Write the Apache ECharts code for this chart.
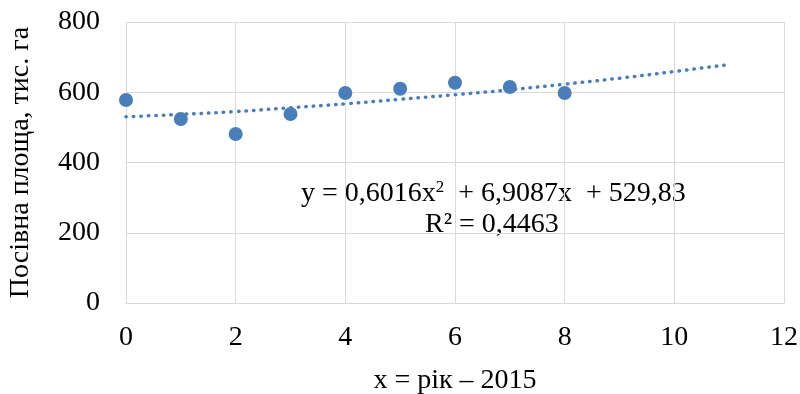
<!DOCTYPE html>
<html>
<head>
<meta charset="utf-8">
<script src="https://cdn.jsdelivr.net/npm/echarts@6/dist/echarts.min.js"></script>
<style>
html,body{margin:0;padding:0;background:#fff;}
#chart{width:800px;height:394px;}
</style>
</head>
<body>
<div id="chart"></div>
<script>
// дані
var xYears = [0, 1, 2, 3, 4, 5, 6, 7, 8];
var areaValues = [578, 524, 481, 538, 598, 610, 627, 615, 598];
// поліноміальний тренд (зчитано з лінії на графіку)
var trendX = [0, 1, 2, 3, 4, 5, 6, 7, 8, 9, 10, 11];
var trendValues = [530, 537, 545, 556, 567, 580, 593, 607, 623, 640, 659, 679];
var xTicks = [0, 2, 4, 6, 8, 10, 12];
var yTicks = [0, 200, 400, 600, 800];

var blue = '#4A7EBB';
var font = '"Liberation Serif", "Times New Roman", serif';

var chart = echarts.init(document.getElementById('chart'));
var pts = [], trend = [];
for (var i = 0; i < xYears.length; i++) pts.push([xYears[i], areaValues[i]]);
for (var j = 0; j < trendX.length; j++) trend.push([trendX[j], trendValues[j]]);

var option = {
    animation: false,
    backgroundColor: '#fff',
    grid: {left: 126, right: 16, top: 22, bottom: 91, containLabel: false, outerBoundsMode: 'none'},
    xAxis: {
        type: 'value',
        min: xTicks[0], max: xTicks[xTicks.length - 1], interval: 2,
        name: 'x = рік – 2015',
        nameLocation: 'middle',
        nameGap: 64,
        nameTextStyle: {fontFamily: font, fontSize: 28, color: '#000'},
        axisLine: {show: true, lineStyle: {color: '#d9d9d9'}},
        axisTick: {show: false},
        axisLabel: {fontFamily: font, fontSize: 28, color: '#000', margin: 21},
        splitLine: {show: true, lineStyle: {color: '#d9d9d9'}}
    },
    yAxis: {
        type: 'value',
        min: yTicks[0], max: yTicks[yTicks.length - 1], interval: 200,
        name: 'Посівна площа, тис. га',
        nameLocation: 'middle',
        nameGap: 91,
        nameTextStyle: {fontFamily: font, fontSize: 28, color: '#000'},
        axisLine: {show: false},
        axisTick: {show: false},
        axisLabel: {fontFamily: font, fontSize: 28, color: '#000', margin: 26},
        splitLine: {show: true, lineStyle: {color: '#d9d9d9'}}
    },
    series: [
        {
            type: 'line',
            data: trend,
            smooth: true,
            showSymbol: false,
            lineStyle: {color: blue, width: 3.5, type: [0.5, 7], cap: 'round'},
            z: 2
        },
        {
            type: 'scatter',
            data: pts,
            symbolSize: 14,
            itemStyle: {color: blue, opacity: 1},
            z: 3
        }
    ],
    graphic: [
        {
            type: 'text',
            left: 301, top: 179,
            style: {
                text: '{t|y = 0,6016x}{s|2}{t|  + 6,9087x  + 529,83}',
                rich: {
                    t: {fontFamily: font, fontSize: 28, fill: '#000'},
                    s: {fontFamily: font, fontSize: 17, fill: '#000', verticalAlign: 'top', padding: [0, 0, 12, 0]}
                }
            }
        },
        {
            type: 'text',
            left: 425, top: 211,
            style: {text: 'R² = 0,4463', font: '28px ' + font, fill: '#000'}
        }
    ]
};
chart.setOption(option);
</script>
</body>
</html>
